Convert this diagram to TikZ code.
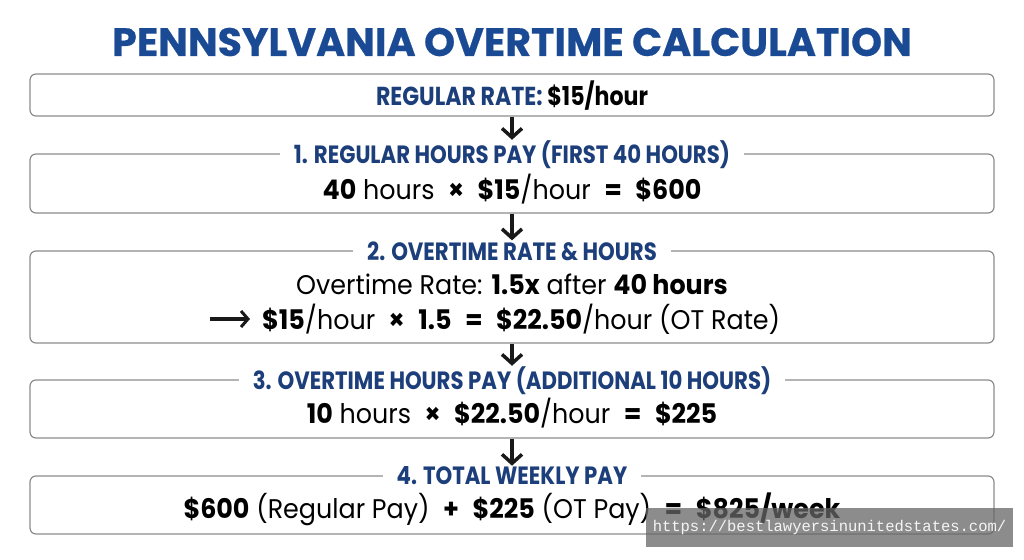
\documentclass[tikz,border=0pt]{standalone}
\usepackage{fontspec}
\setmainfont{Poppins}
\newfontfamily\titlefont{Poppins}[FakeBold=0.5]
\newfontfamily\headfont{Poppins}[FakeStretch=0.85]
\newfontfamily\calcfont{Poppins}[FakeStretch=0.94]
\newfontfamily\urlfont{Liberation Mono}
\usetikzlibrary{arrows.meta}
\definecolor{titleblue}{HTML}{1A4A94}
\definecolor{headblue}{HTML}{1C3E7A}
\definecolor{boxgray}{HTML}{8C8C8C}
\newcommand{\op}[1]{\enspace\textbf{#1}\enspace}
\begin{document}
\begin{tikzpicture}[x=1pt,y=-1pt,
  box/.style={draw=boxgray,line width=1.2pt,rounded corners=6pt,minimum width=964pt,inner sep=0pt},
  steplabel/.style={fill=white,inner xsep=14pt,inner ysep=1pt,text=headblue,font=\headfont\fontsize{25}{28}\selectfont\bfseries},
  calc/.style={font=\calcfont\fontsize{27}{30}\selectfont,inner sep=0pt},
  flow/.style={-{Straight Barb[length=9pt,width=20pt,line width=3.5pt]},line width=3.6pt,color=black!90}]
  \useasboundingbox (0,0) rectangle (1024,559);
  \node[text=titleblue,font=\titlefont\fontsize{39.5}{42}\selectfont\bfseries] (title) at (512,42) {PENNSYLVANIA OVERTIME CALCULATION};
  % boxes
  \node[box,minimum height=42pt] (rate) at (512,95) {};
  \node[box,minimum height=59pt] (box1) at (512,183.5) {};
  \node[box,minimum height=92pt] (box2) at (512,297) {};
  \node[box,minimum height=58pt] (box3) at (512,409) {};
  \node[box,minimum height=58pt] (box4) at (512,505) {};
  % headings
  \node[steplabel,fill=none,font=\headfont\fontsize{26}{28}\selectfont\bfseries] (ratetxt) at (512,96) {REGULAR RATE: \textcolor{black}{\$15/hour}};
  \node[steplabel] (lab1) at (512,155) {1. REGULAR HOURS PAY (FIRST 40 HOURS)};
  \node[steplabel] (lab2) at (512,251) {2. OVERTIME RATE \& HOURS};
  \node[steplabel] (lab3) at (512,381) {3. OVERTIME HOURS PAY (ADDITIONAL 10 HOURS)};
  \node[steplabel] (lab4) at (512,476) {4. TOTAL WEEKLY PAY};
  % calculations
  \node[calc] (calc1) at (512,189) {\textbf{40} hours\op{×}\textbf{\$15}/hour\op{=}\textbf{\$600}};
  \node[calc] (calc2a) at (512,284) {Overtime Rate: \textbf{1.5x} after \textbf{40 hours}};
  \node[calc,anchor=west,inner xsep=12pt] (calc2b) at (250,319) {\textbf{\$15}/hour\op{×}\textbf{1.5}\op{=}\textbf{\$22.50}/hour (OT Rate)};
  \node[calc] (calc3) at (512,413) {\textbf{10} hours\op{×}\textbf{\$22.50}/hour\op{=}\textbf{\$225}};
  \node[calc] (calc4) at (512,509) {\textbf{\$600} (Regular Pay)\op{+}\textbf{\$225} (OT Pay)\op{=}\textbf{\$825/week}};
  \coordinate (ratearrow) at (210,319);
  \draw[-{Straight Barb[length=7pt,width=16pt,line width=3pt]},line width=3.2pt,color=black!90] (ratearrow) -- (calc2b.west);
  % arrows
  \draw[flow] (rate.south) -- (lab1.north);
  \draw[flow] (box1.south) -- (lab2.north);
  \draw[flow] (box2.south) -- (lab3.north);
  \draw[flow] (box3.south) -- (lab4.north);
  % watermark
  \node[fill=black!60,fill opacity=0.75,text opacity=1,text=white!92!gray,minimum width=367pt,minimum height=39pt,inner sep=0pt,font=\urlfont\fontsize{15.5}{17}\selectfont] (mark) at (829.5,527.5) {https://bestlawyersinunitedstates.com/};
\end{tikzpicture}
\end{document}
